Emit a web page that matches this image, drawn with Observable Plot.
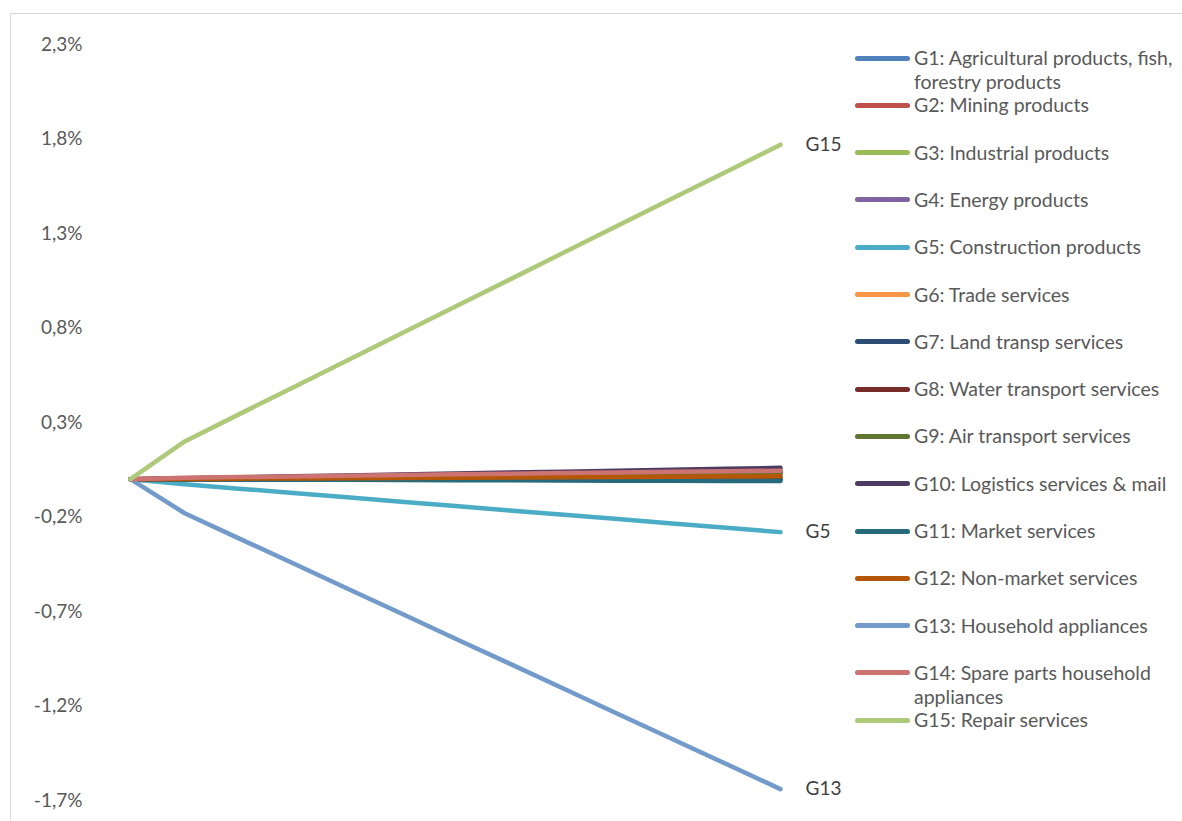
<!DOCTYPE html>
<html>
<head>
<meta charset="utf-8">
<script src="https://cdn.jsdelivr.net/npm/d3@7"></script>
<script src="https://cdn.jsdelivr.net/npm/@observablehq/plot@0.6"></script>
<style>
  html, body { margin: 0; padding: 0; background: #fff; overflow: hidden; }
  #wrap { position: relative; width: 1182px; height: 821px; overflow: hidden; font-family: Lato, "Open Sans", sans-serif; }
  #frame { position: absolute; left: 10px; top: 13px; width: 1200px; height: 900px; border: 1.5px solid #d9d9d9; box-sizing: border-box; }
  #chart { position: absolute; left: 0; top: 0; }
  #legend { position: absolute; left: 0; top: 0; }
  .item { position: absolute; left: 855px; display: flex; align-items: flex-start; }
  .sw { width: 55px; height: 5px; border-radius: 3px; margin-top: 9.5px; margin-right: 4px; flex: none; }
  .lbl { font-size: 19.5px; line-height: 24px; color: #595959; white-space: nowrap; }
</style>
</head>
<body>
<div id="wrap">
  <div id="frame"></div>
  <div id="chart"></div>
  <div id="legend"></div>
</div>
<script>
// Series names and legend labels
const seriesKeys = ["G1","G2","G3","G4","G5","G6","G7","G8","G9","G10","G11","G12","G13","G14","G15"];
const seriesLabels = [
  ["G1: Agricultural products, fish,", "forestry products"],
  ["G2: Mining products"],
  ["G3: Industrial products"],
  ["G4: Energy products"],
  ["G5: Construction products"],
  ["G6: Trade services"],
  ["G7: Land transp services"],
  ["G8: Water transport services"],
  ["G9: Air transport services"],
  ["G10: Logistics services & mail"],
  ["G11: Market services"],
  ["G12: Non-market services"],
  ["G13: Household appliances"],
  ["G14: Spare parts household", "appliances"],
  ["G15: Repair services"]
];
const seriesColors = ["#4F81BD","#C0504D","#9BBB59","#8064A2","#4BACC6","#F79646","#2C4D75","#772C2A","#5F7530","#4D3B62","#276A7C","#B65708","#729ACA","#CD7371","#AFC97A"];

// Steps (category positions, no axis shown)
const steps = [0,1,2,3,4,5,6,7,8,9,10,11,12];

// Values in percent
const G1  = [0,0,0,0,0,0,0,0,0,0,0,0,0];
const G2  = [0,0.003,0.006,0.009,0.012,0.015,0.017,0.02,0.023,0.026,0.029,0.032,0.035];
const G3  = [0,0,0,0,0,0,0,0,0,0,0,0,0];
const G4  = [0,0,0,0,0,0,0,0,0,0,0,0,0];
const G5  = [0,-0.027,-0.050,-0.073,-0.096,-0.119,-0.142,-0.165,-0.188,-0.211,-0.234,-0.257,-0.280];
const G6  = [0,0.001,0.002,0.003,0.003,0.004,0.005,0.006,0.007,0.008,0.008,0.009,0.01];
const G7  = [0,0,0,0,0,0,0,0,0,0,0,0,0];
const G8  = [0,0.003,0.007,0.01,0.013,0.017,0.02,0.023,0.027,0.03,0.033,0.037,0.04];
const G9  = [0,0.002,0.004,0.006,0.008,0.01,0.013,0.015,0.017,0.019,0.021,0.023,0.025];
const G10 = [0,0.005,0.01,0.015,0.02,0.025,0.03,0.035,0.04,0.045,0.05,0.055,0.06];
const G11 = [0,-0.001,-0.002,-0.003,-0.003,-0.004,-0.005,-0.006,-0.007,-0.008,-0.008,-0.009,-0.01];
const G12 = [0,0.001,0.003,0.004,0.005,0.006,0.008,0.009,0.01,0.011,0.013,0.014,0.015];
const G13 = [0,-0.180,-0.313,-0.445,-0.578,-0.711,-0.844,-0.976,-1.109,-1.242,-1.375,-1.507,-1.640];
const G14 = [0,0.008,0.011,0.014,0.018,0.022,0.026,0.029,0.033,0.036,0.039,0.042,0.045];
const G15 = [0,0.200,0.343,0.485,0.628,0.771,0.914,1.056,1.199,1.342,1.485,1.627,1.770];

const yTicks = [2.3,1.8,1.3,0.8,0.3,-0.2,-0.7,-1.2,-1.7];
const endLabels = ["G15","G5","G13"];

const seriesValues = [G1,G2,G3,G4,G5,G6,G7,G8,G9,G10,G11,G12,G13,G14,G15];
const rows = [];
seriesKeys.forEach((k, si) => steps.forEach((s, j) => rows.push({s: k, i: s, v: seriesValues[si][j]})));
const lastStep = steps[steps.length - 1];
const endRows = rows.filter(d => d.i === lastStep && endLabels.includes(d.s));

const fmt = d => d.toFixed(1).replace(".", ",") + "%";

const chart = Plot.plot({
  width: 850,
  height: 821,
  marginLeft: 130,
  marginRight: 70,
  marginTop: 44,
  marginBottom: 21,
  style: {fontFamily: "Lato, 'Open Sans', sans-serif", fontSize: "19px", color: "#595959", background: "transparent", overflow: "visible"},
  x: {domain: [steps[0], lastStep], axis: null},
  y: {domain: [-1.7, 2.3]},
  color: {domain: seriesKeys, range: seriesColors},
  marks: [
    Plot.axisY({ticks: yTicks, tickSize: 0, tickPadding: 48, tickFormat: fmt, label: null, fontSize: 19}),
    Plot.line(rows, {x: "i", y: "v", z: "s", stroke: "s", strokeWidth: 4.5, strokeLinecap: "round", strokeLinejoin: "round"}),
    Plot.text(endRows, {x: "i", y: "v", text: "s", dx: 25, textAnchor: "start", fill: "#404040", fontSize: 19})
  ]
});
document.getElementById("chart").appendChild(chart);

const legend = document.getElementById("legend");
seriesKeys.forEach((k, idx) => {
  const item = document.createElement("div");
  item.className = "item";
  item.style.top = (58 + idx * 47.3 - 12) + "px";
  const sw = document.createElement("div");
  sw.className = "sw";
  sw.style.background = seriesColors[idx];
  const lbl = document.createElement("div");
  lbl.className = "lbl";
  seriesLabels[idx].forEach((line, li) => {
    if (li) lbl.appendChild(document.createElement("br"));
    lbl.appendChild(document.createTextNode(line));
  });
  item.appendChild(sw);
  item.appendChild(lbl);
  legend.appendChild(item);
});
</script>
</body>
</html>
